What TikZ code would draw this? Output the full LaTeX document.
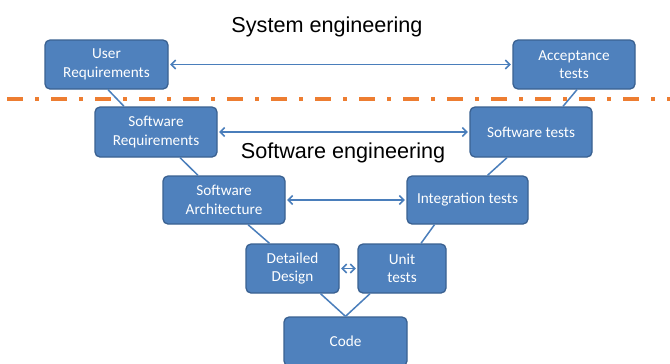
\documentclass[tikz,border=0pt]{standalone}
\usepackage{fontspec}
\setmainfont{Liberation Sans}
\newfontfamily\boxfont{Carlito}
\usetikzlibrary{arrows.meta}
\definecolor{boxfill}{HTML}{4F81BD}
\definecolor{boxline}{HTML}{3A6191}
\definecolor{linkblue}{HTML}{4A7EBB}
\definecolor{sepor}{HTML}{ED7D31}
\tikzset{
  vbox/.style={draw=boxline, fill=boxfill, line width=1.3bp, rounded corners=5bp,
    text=white, align=center, inner sep=0pt, minimum height=49bp,
    font=\boxfont\fontsize{15.3}{18.6}\selectfont},
  link/.style={draw=linkblue, line width=1.5bp},
  twoway/.style={link, {Straight Barb[length=4.5bp,width=9bp,line width=1.5bp]}-{Straight Barb[length=4.5bp,width=9bp,line width=1.5bp]}, shorten <=1.5bp, shorten >=1.5bp},
  title/.style={anchor=base, inner sep=0pt, font=\fontsize{21.7}{26}\selectfont},
}
\begin{document}
\begin{tikzpicture}[x=1bp,y=-1bp]
\useasboundingbox (0,0) rectangle (670,363);
\fill[white] (0,0) rectangle (670,363);
% separator line
\coordinate (sepL) at (0,99);
\coordinate (sepR) at (670,99);
\draw[sepor, line width=4bp, dash pattern=on 16bp off 12bp on 4bp off 12bp, dash phase=37bp] (sepL) -- (sepR);
% titles
\node[title] (sys) at (327,32.5) {System engineering};
\node[title] (sw) at (343,158.5) {Software engineering};
% boxes
\node[vbox, minimum width=123bp] (ur) at (106.5,64.5) {User\\Requirements};
\node[vbox, minimum width=122bp] (at) at (574,64.5) {Acceptance\\tests};
\node[vbox, minimum width=122bp, minimum height=50bp] (sr) at (156,132) {Software\\Requirements};
\node[vbox, minimum width=122bp, minimum height=50bp] (st) at (531,132) {Software tests};
\node[vbox, minimum width=122bp, minimum height=48bp] (sa) at (224,200) {Software\\Architecture};
\node[vbox, minimum width=121bp, minimum height=48bp] (it) at (467.5,200) {Integration tests};
\node[vbox, minimum width=93bp] (dd) at (292.5,268.5) {Detailed\\Design};
\node[vbox, minimum width=88bp] (ut) at (402,268.5) {Unit\\tests};
\node[vbox, minimum width=123bp] (code) at (345.5,341.5) {Code};
% V connectors
\draw[link] ([xshift=1.5bp]ur.south) -- ([xshift=-32bp]sr.north);
\draw[link] ([xshift=24bp]sr.south) -- ([xshift=-26bp]sa.north);
\draw[link] ([xshift=24bp]sa.south) -- ([xshift=-23bp]dd.north);
\draw[link] ([xshift=28bp]dd.south) -- (code.north);
\draw[link] ([xshift=3bp]at.south) -- ([xshift=32bp]st.north);
\draw[link] ([xshift=-24bp]st.south) -- ([xshift=20bp]it.north);
\draw[link] ([xshift=-33bp]it.south) -- ([xshift=19bp]ut.north);
\draw[link] ([xshift=-32bp]ut.south) -- (code.north);
% horizontal arrows
\draw[twoway] (ur.east) -- (at.west);
\draw[twoway] (sr.east) -- (st.west);
\draw[twoway] (sa.east) -- (it.west);
\draw[twoway] (dd.east) -- (ut.west);
\end{tikzpicture}
\end{document}
